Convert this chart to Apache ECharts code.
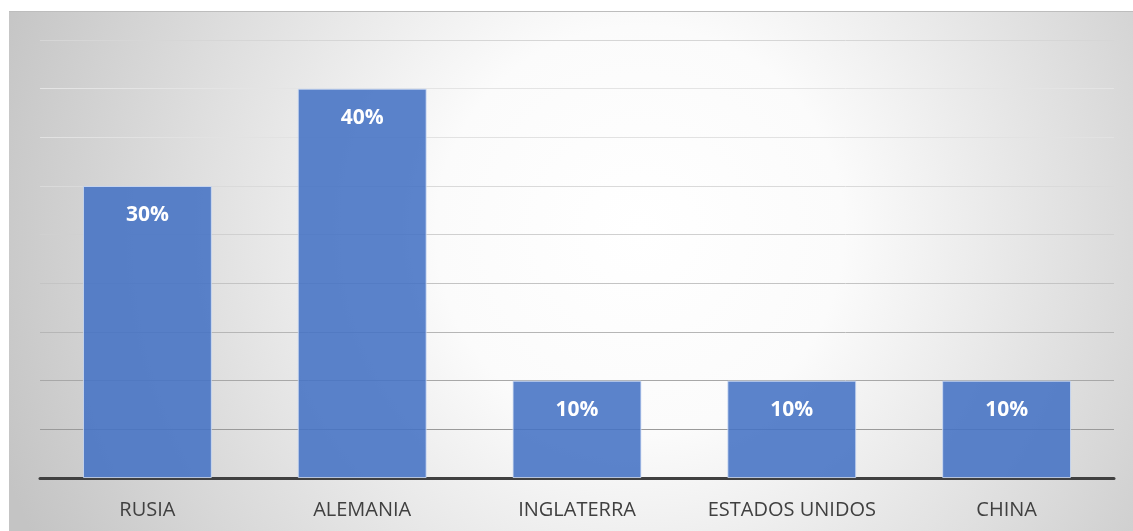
<!DOCTYPE html>
<html>
<head>
<meta charset="utf-8">
<script src="https://cdn.jsdelivr.net/npm/echarts@6/dist/echarts.min.js"></script>
<style>
html,body{margin:0;padding:0;background:#fff;}
#chart{width:1133px;height:531px;}
</style>
</head>
<body>
<div id="chart"></div>
<script>
var categories = ['RUSIA', 'ALEMANIA', 'INGLATERRA', 'ESTADOS UNIDOS', 'CHINA'];
var values = [30, 40, 10, 10, 10];
var gridColors = ['#8c8c8c', '#9a9a9a', '#a8a8a8', '#b6b6b6', '#c4c4c4', '#d0d0d0', '#dadada', '#e2e2e2', '#e4e4e4', '#d6d6d6'];

var chart = echarts.init(document.getElementById('chart'));
chart.setOption({
  animation: false,
  graphic: [{
    type: 'rect',
    z: -10,
    silent: true,
    shape: {x: 9, y: 11, width: 1124, height: 520},
    style: {
      fill: new echarts.graphic.RadialGradient(640, 230, 680, [
        {offset: 0, color: '#ffffff'},
        {offset: 0.3, color: '#fbfbfb'},
        {offset: 1, color: '#c4c4c4'}
      ], true)
    }
  }, {
    type: 'line',
    z: -9,
    silent: true,
    shape: {x1: 9, y1: 11.5, x2: 1133, y2: 11.5},
    style: {stroke: '#bdbdbd', lineWidth: 1}
  }],
  grid: {left: 40, right: 19, top: 40, bottom: 53},
  xAxis: {
    type: 'category',
    data: categories,
    axisTick: {show: false},
    axisLine: {lineStyle: {color: '#404040', width: 3}},
    axisLabel: {interval: 0, color: '#404040', fontSize: 20, fontFamily: 'Open Sans', margin: 22}
  },
  yAxis: {
    type: 'value',
    min: 0,
    max: 45,
    interval: 5,
    axisLabel: {show: false},
    axisLine: {show: false},
    axisTick: {show: false},
    splitLine: {lineStyle: {color: gridColors, width: 1}}
  },
  series: [{
    type: 'bar',
    data: values,
    barWidth: '60%',
    itemStyle: {color: 'rgba(68,114,196,0.88)', borderColor: 'rgba(210,222,245,0.8)', borderWidth: 1},
    label: {
      show: true,
      position: 'insideTop',
      distance: 19,
      formatter: '{c}%',
      color: '#ffffff',
      fontWeight: 'bold',
      fontSize: 21,
      fontFamily: 'Open Sans'
    }
  }]
});
</script>
</body>
</html>
